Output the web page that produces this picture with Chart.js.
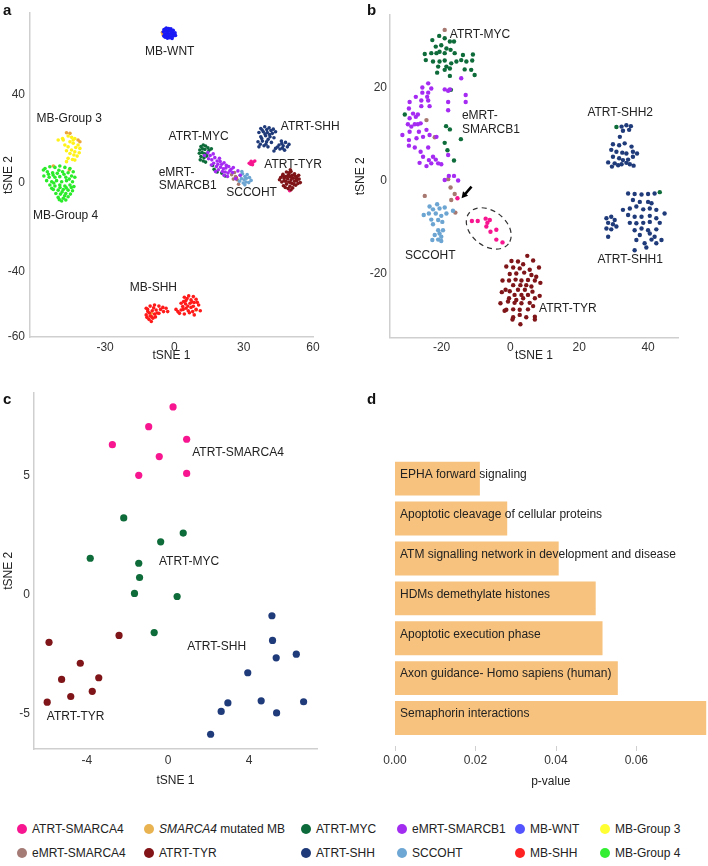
<!DOCTYPE html>
<html>
<head>
<meta charset="utf-8">
<script src="https://cdn.jsdelivr.net/npm/chart.js@4.4.1/dist/chart.umd.min.js"></script>
<style>
body { margin: 0; background: #fff; font-family: "Liberation Sans", Arial, sans-serif; }
#page { position: relative; width: 708px; height: 866px; overflow: hidden; }
canvas { position: absolute; }
.tag { position: absolute; font-weight: bold; font-size: 15px; color: #111; line-height: 15px; }
.leg { position: absolute; font-size: 12px; color: #222; white-space: nowrap; line-height: 14px; }
.dot { position: absolute; width: 10px; height: 10px; border-radius: 50%; }
</style>
</head>
<body>
<div id="page">
  <canvas id="chartA" style="left:0;top:0" width="350" height="370"></canvas>
  <canvas id="chartB" style="left:350px;top:0" width="358" height="370"></canvas>
  <canvas id="chartC" style="left:0;top:380px" width="350" height="410"></canvas>
  <canvas id="chartD" style="left:350px;top:380px" width="358" height="410"></canvas>
  <div class="tag" style="left:3px;top:2px">a</div>
  <div class="tag" style="left:367px;top:2px">b</div>
  <div class="tag" style="left:3px;top:391px">c</div>
  <div class="tag" style="left:367px;top:391px">d</div>
  <div id="legend"></div>
</div>
<script>
Chart.defaults.font.family = '"Liberation Sans", Arial, sans-serif';

// group colours
const col = {
  smarca4: '#F7168F', mutMb: '#EDA43A', myc: '#0E6B3A', smarcb1: '#A52BF2',
  wnt: '#1A1AF5', g3: '#FFF21A', emrtA4: '#A6786F', tyr: '#7F1518',
  shh: '#203B7A', scc: '#6CA5D2', mbShh: '#FF1A1A', g4: '#2BEB2B'
};

// ---- panel a (tSNE, all tumours) ----
const aWnt = [[-4.5,69.5],[-3.5,70.2],[-2.5,70.0],[-1.5,69.8],[-0.5,69.2],[-4.8,68.5],[-3.8,68.8],[-2.8,68.6],[-1.8,68.9],[-0.8,68.4],[0.3,68.0],[-4.2,67.5],[-3.2,67.8],[-2.2,67.4],[-1.2,67.6],[-0.2,67.2],[-4.6,66.6],[-3.6,66.4],[-2.6,66.8],[-1.6,66.2],[-0.6,66.5],[-3.0,65.6],[-2.0,65.8],[-1.0,65.5],[0.5,66.8],[-2.4,69.2],[-1.4,68.0],[-3.8,69.8],[-2.0,69.0],[-3.3,66.9],[-1.9,67.0],[-4.0,66.0]];
const aMutMb = [[-5.2,68.2],[-4.0,69.0],[-0.8,67.0],[-4.9,67.2],[-46.7,22.8],[-45.2,22.5],[-41.7,19.5],[-40.9,18.7],[-45.5,5.9],[-52.4,7.7],[9.4,-57.5],[-10.0,-59.0]];
const aG3 = [[-46.0,21.3],[-44.5,20.7],[-43.1,20.2],[-48.4,20.2],[-50.3,19.5],[-48.1,19.5],[-45.2,18.7],[-43.8,18.0],[-41.7,17.2],[-47.4,17.2],[-46.0,16.4],[-42.7,16.1],[-40.9,15.7],[-44.5,15.0],[-43.1,14.2],[-41.2,13.7],[-45.2,13.4],[-43.5,12.7],[-42.1,12.2],[-46.0,11.2],[-44.1,10.7],[-46.7,9.7],[-43.1,10.4],[-46.7,14.6],[-43.8,19.5]];
const aG4 = [[-56.0,6.6],[-53.9,7.4],[-51.7,7.1],[-49.6,7.7],[-47.4,7.1],[-45.2,6.6],[-55.0,5.1],[-52.7,4.7],[-50.7,4.4],[-48.4,5.1],[-46.0,4.7],[-43.8,5.1],[-56.5,3.2],[-54.2,2.6],[-51.7,2.6],[-49.6,2.9],[-47.0,2.6],[-44.5,3.2],[-55.3,1.1],[-53.1,0.6],[-51.0,1.1],[-48.8,0.6],[-46.7,1.1],[-44.1,0.6],[-53.9,-0.9],[-51.7,-1.3],[-49.6,-0.9],[-47.4,-1.3],[-45.2,-0.9],[-43.5,-1.6],[-52.4,-2.9],[-50.3,-3.2],[-48.1,-2.9],[-46.0,-3.2],[-44.1,-3.5],[-51.3,-4.7],[-49.3,-5.0],[-47.0,-4.7],[-45.0,-5.0],[-50.3,-6.5],[-48.1,-6.9],[-46.0,-6.2],[-48.8,-8.1],[-47.0,-7.7],[-56.7,5.9],[-53.1,-2.4],[-43.1,2.6],[-54.5,4.0],[-52.5,3.6],[-50.0,5.8],[-47.8,4.0],[-45.5,1.8],[-49.5,-2.0],[-46.8,-2.2],[-48.6,-4.0],[-49.8,-7.5],[-52.2,0.0],[-44.6,-2.0],[-47.5,-5.8]];
const aMbShh = [[-12.2,-56.7],[-10.5,-55.7],[-8.6,-55.2],[-6.7,-55.7],[-5.0,-56.3],[-11.5,-58.2],[-9.6,-57.8],[-7.9,-57.5],[-6.0,-57.2],[-3.6,-56.7],[-2.9,-58.2],[-12.2,-59.7],[-10.5,-60.2],[-8.6,-59.3],[-6.7,-59.0],[-11.0,-61.7],[-9.3,-61.2],[-10.0,-62.7],[-11.9,-60.8],[-4.7,-58.2],[4.3,-51.7],[6.2,-51.1],[8.2,-51.4],[5.0,-53.2],[7.2,-52.9],[9.4,-52.6],[2.9,-54.4],[4.8,-54.7],[6.8,-54.4],[8.6,-54.1],[10.5,-55.2],[0.7,-57.2],[2.9,-57.5],[5.0,-56.7],[7.2,-56.3],[9.4,-57.2],[11.2,-57.8],[2.2,-59.0],[4.3,-59.3],[6.5,-58.7],[8.6,-59.7],[5.8,-55.7],[7.9,-58.2],[3.6,-55.9],[-9.0,-56.5],[-7.5,-58.8],[-10.8,-58.8],[-9.8,-60.5],[-8.2,-60.6],[-11.6,-57.2],[5.5,-52.3],[7.6,-53.8],[3.8,-57.2],[6.0,-57.8],[8.2,-55.8],[9.9,-54.0],[1.5,-58.2],[4.0,-53.6]];
const aMyc = [[11.5,16.5],[12.5,17.2],[13.5,16.8],[14.5,16.0],[11.0,15.0],[12.2,15.5],[13.2,15.2],[15.0,14.8],[10.8,13.5],[12.0,13.8],[13.0,13.2],[14.2,13.5],[11.5,12.0],[12.8,11.5],[14.0,12.2],[11.2,10.5],[12.5,10.0],[13.5,9.5],[16.5,8.0],[18.5,5.0],[20.5,4.5],[22.0,3.2],[17.2,6.2],[16.0,15.5]];
const aSmarcb1 = [[15.5,12.5],[16.8,13.2],[14.8,11.0],[16.2,10.5],[17.5,11.5],[18.5,10.0],[17.0,9.0],[18.8,8.5],[19.8,9.8],[20.5,8.5],[21.5,9.2],[22.5,8.0],[20.0,7.2],[21.2,6.5],[22.3,6.8],[23.5,7.5],[24.5,6.2],[19.0,6.0],[20.8,5.2],[22.0,5.0],[23.2,4.5],[24.0,5.5],[25.2,4.8],[18.2,7.5],[16.0,8.2],[21.5,3.5],[23.0,3.0],[25.5,7.0],[27.5,5.5],[28.5,3.5],[26.5,2.0],[14.5,13.8],[13.0,12.5],[19.5,11.2],[17.8,5.2]];
const aScc = [[28.5,3.5],[29.5,4.2],[30.5,3.0],[31.5,3.8],[29.0,2.0],[30.2,1.5],[31.2,2.2],[32.5,2.5],[28.2,0.8],[29.8,0.0],[31.0,0.5],[32.2,0.2],[33.2,1.2],[30.5,-0.8],[29.2,5.2]];
const aSmarca4 = [[32.4,9.0],[33.2,9.8],[34.0,9.4],[34.8,10.0],[33.0,8.5],[33.8,8.3],[26.8,2.5],[49.9,-3.5]];
const aEmrtA4 = [[26.0,4.8],[26.5,3.0],[27.2,1.5],[25.5,1.8],[27.8,-0.5],[24.8,3.8]];
const aTyr = [[46.0,2.5],[47.0,4.0],[47.5,1.0],[48.0,3.0],[48.5,5.0],[48.5,-0.5],[49.0,2.0],[49.5,4.0],[49.5,0.5],[50.0,3.0],[50.0,-1.5],[50.5,1.5],[50.5,5.2],[51.0,3.5],[51.0,-0.2],[51.5,2.2],[52.0,4.2],[52.0,0.8],[52.5,-1.0],[53.0,2.8],[53.0,1.0],[53.8,3.5],[54.0,1.8],[47.2,-1.2],[46.5,0.5],[48.0,-2.0],[49.2,-2.5],[51.2,-2.2],[50.2,6.0],[45.5,1.5],[54.5,0.2],[47.5,2.2],[49.0,3.2],[50.8,2.6],[52.3,3.2],[48.2,0.8],[50.2,0.2],[51.8,-0.6],[49.8,4.8],[52.8,1.9],[46.8,3.2],[53.5,-0.2],[50.5,-3.0]];
const aShh = [[37.4,24.7],[39.1,25.5],[41.0,25.0],[42.8,24.4],[36.6,22.9],[38.5,23.2],[40.2,22.9],[42.4,22.5],[43.8,23.2],[37.4,21.0],[39.5,21.4],[41.4,21.0],[43.1,20.5],[36.2,18.7],[38.1,19.0],[39.9,18.7],[42.0,18.4],[36.6,16.4],[38.8,16.9],[40.5,16.4],[46.3,19.0],[48.1,18.4],[45.3,17.2],[47.1,16.9],[48.9,16.4],[43.8,15.7],[45.7,15.4],[47.7,14.9],[43.1,14.5],[49.6,17.5],[38.0,24.0],[40.0,24.2],[41.8,23.8],[39.2,22.2],[41.2,22.0],[37.8,20.2],[40.6,19.8],[37.2,17.6],[39.6,17.6],[46.5,17.9],[44.6,16.3],[46.8,15.8]];
const aNotes = [['MB-WNT',-2.0,59.7,'center'],['MB-Group 3',-45.5,29.3,'center'],['MB-Group 4',-47.1,-14.9,'center'],['ATRT-MYC',10.5,20.9,'center'],['eMRT-',-6.8,4.7,'left'],['SMARCB1',-6.8,-1.4,'left'],['SCCOHT',33.4,-4.4,'center'],['ATRT-TYR',51.4,8.5,'center'],['ATRT-SHH',58.8,25.5,'center'],['MB-SHH',-9.1,-47.4,'center']];
const aXTicks = [-30, 0, 30, 60];
const aYTicks = [-69.7, -40, 0, 40];

// ---- panel b (tSNE, rhabdoid-like tumours) ----
const bMyc = [[-20.7,31.2],[-19.1,30.7],[-22.7,30.3],[-17.6,30.0],[-16.4,30.0],[-21.7,28.9],[-20.1,29.2],[-18.6,28.5],[-17.4,28.2],[-24.9,27.3],[-23.0,27.5],[-21.5,27.5],[-20.6,27.8],[-19.1,27.5],[-16.2,27.5],[-13.8,27.1],[-10.9,27.2],[-24.6,26.0],[-22.5,25.7],[-20.6,25.7],[-19.1,25.9],[-17.2,25.3],[-15.7,25.7],[-14.3,26.0],[-12.8,25.7],[-11.1,25.9],[-21.0,24.6],[-18.6,24.6],[-17.6,24.2],[-19.1,23.9],[-21.3,23.3],[-13.3,24.0],[-11.4,23.9],[-10.4,22.8],[-17.6,22.6],[-17.3,19.6],[-30.7,14.3],[-18.7,11.8],[-17.6,11.1],[-14.4,9.0],[-19.1,8.2],[-18.3,6.6],[-16.4,4.4],[30.8,11.6],[43.4,-2.4]];
const bSmarcb1 = [[-23.9,21.0],[-25.6,20.1],[-23.0,19.9],[-19.1,19.7],[-18.1,19.4],[-25.6,19.0],[-23.9,19.0],[-27.5,18.1],[-24.2,18.1],[-25.9,17.3],[-23.9,17.3],[-29.3,17.0],[-13.0,18.5],[-13.0,17.0],[-18.1,17.0],[-25.9,16.1],[-23.5,16.1],[-18.1,15.2],[-29.5,15.6],[-28.3,14.5],[-27.5,13.8],[-29.3,13.5],[-26.9,14.3],[-26.1,12.4],[-27.8,12.2],[-29.8,12.2],[-28.8,11.7],[-26.9,12.2],[-31.4,9.9],[-29.3,10.6],[-26.6,10.6],[-24.4,11.0],[-29.5,8.8],[-27.3,9.2],[-25.4,9.5],[-23.5,9.9],[-21.5,9.5],[-29.5,7.6],[-27.8,7.2],[-23.9,7.2],[-26.1,6.3],[-25.4,5.2],[-26.4,3.9],[-23.7,4.5],[-23.0,3.8],[-21.7,4.6],[-21.0,3.8],[-20.1,3.6],[-24.4,3.2],[-22.5,5.2],[-18.1,5.6],[-17.9,1.1],[-16.4,1.1],[-15.2,0.1],[-19.1,0.2],[-14.3,22.1],[-17.6,19.7]];
const bEmrtA4 = [[-19.1,32.5],[-24.4,13.1],[-22.0,9.4],[-18.1,0.4],[-17.4,-1.4],[-16.2,-2.8],[-17.2,-4.1],[-24.9,-3.2],[-16.0,-6.8]];
const bSmarca4 = [[-15.4,-3.7],[-11.2,-8.6],[-9.5,-8.6],[-7.2,-8.1],[-6.0,-8.4],[-6.7,-9.0],[-7.0,-9.8],[-5.8,-10.9],[-4.1,-10.5],[-4.1,-12.6],[-2.3,-13.2]];
const bScc = [[-21.3,-5.0],[-23.5,-5.5],[-22.5,-6.1],[-20.6,-5.9],[-19.1,-5.7],[-25.2,-7.3],[-23.7,-7.0],[-21.7,-7.0],[-20.1,-7.5],[-18.6,-7.0],[-16.7,-6.4],[-23.0,-8.3],[-21.0,-8.4],[-19.8,-8.8],[-22.5,-9.3],[-21.0,-10.6],[-19.6,-10.6],[-20.6,-11.3],[-22.0,-11.6],[-20.1,-12.0],[-21.0,-12.6],[-22.7,-12.7],[-20.1,-12.9]];
const bTyr = [[4.9,-16.1],[0.3,-17.2],[2.2,-17.3],[6.6,-17.1],[3.7,-17.9],[8.3,-18.6],[-1.2,-18.4],[0.8,-18.6],[2.7,-18.8],[5.6,-19.1],[-0.2,-20.0],[1.7,-19.9],[4.0,-19.7],[6.1,-20.2],[7.5,-20.6],[-2.3,-21.4],[-0.4,-21.4],[1.5,-21.2],[3.2,-21.4],[5.1,-21.3],[7.1,-21.4],[8.7,-21.9],[0.8,-22.4],[2.9,-22.4],[4.6,-22.4],[6.1,-22.7],[-1.4,-23.4],[-0.2,-23.7],[2.2,-23.4],[4.2,-23.4],[6.4,-23.8],[8.5,-24.7],[-2.5,-23.9],[1.2,-24.5],[3.2,-24.5],[5.1,-24.5],[-0.4,-25.2],[1.7,-25.6],[3.7,-25.2],[7.1,-25.2],[-2.9,-26.3],[-0.7,-25.9],[1.2,-26.2],[3.2,-26.3],[5.6,-26.2],[-1.2,-27.7],[0.8,-27.6],[2.7,-27.7],[5.1,-27.6],[6.6,-26.9],[0.8,-29.3],[2.7,-28.8],[4.6,-29.3],[7.1,-29.2],[0.6,-29.8],[2.9,-30.8],[-1.7,-27.9],[7.1,-29.8]];
const bShh = [[32.3,11.7],[33.7,12.0],[35.0,11.8],[32.7,10.8],[34.5,11.0],[31.8,9.5],[29.8,7.9],[31.6,7.7],[33.2,8.1],[35.2,7.4],[29.3,6.7],[30.8,6.3],[32.5,6.1],[33.7,5.9],[35.6,6.3],[36.8,5.9],[29.8,5.2],[31.6,4.9],[32.7,4.5],[34.2,4.6],[35.6,5.2],[28.4,4.0],[30.3,3.8],[32.3,3.6],[33.7,3.9],[35.8,3.3],[29.5,3.1],[31.3,3.4],[34.7,3.6],
  [27.9,-8.0],[29.3,-7.7],[30.3,-8.4],[28.4,-9.0],[29.8,-9.3],[27.9,-10.2],[29.3,-10.4],[28.4,-12.0],[30.8,-9.8],[34.2,-2.7],[36.1,-2.8],[38.1,-2.9],[40.0,-2.8],[41.9,-2.7],[35.6,-4.1],[37.6,-4.5],[40.0,-4.5],[41.0,-4.8],[32.7,-6.2],[34.7,-5.9],[36.6,-5.5],[38.6,-6.1],[40.5,-5.9],[42.4,-6.2],[44.8,-7.0],[34.2,-7.3],[36.1,-7.7],[38.1,-7.7],[40.5,-7.5],[42.4,-8.0],[34.7,-9.0],[36.6,-9.1],[38.6,-9.0],[40.5,-8.8],[43.4,-9.0],[36.1,-10.6],[38.1,-10.2],[40.0,-10.6],[42.4,-10.4],[37.6,-11.6],[40.5,-11.3],[41.9,-12.0],[43.9,-12.7],[36.6,-12.7],[39.0,-13.4],[41.0,-12.6],[42.4,-13.4],[36.1,-14.9],[39.5,-14.3]];
const bNotes = [['ATRT-MYC',-17.6,31.4,'left'],['eMRT-',-14.1,14.0,'left'],['SMARCB1',-14.1,11.1,'left'],['ATRT-SHH2',31.9,14.6,'center'],['SCCOHT',-23.3,-16.1,'center'],['ATRT-SHH1',34.8,-17.0,'center'],['ATRT-TYR',16.7,-27.5,'center']];
const bXTicks = [-20, 0, 20, 40];
const bYTicks = [-20, 0, 20];

// ---- panel c (tSNE, SMARCA4 subset) ----
const cSmarca4 = [[0.25,7.9],[-0.95,7.07],[0.92,6.54],[-2.74,6.31],[-0.43,5.81],[-1.44,5.02],[0.92,5.1]];
const cMyc = [[-2.18,3.23],[0.75,2.59],[-0.36,2.22],[-3.83,1.53],[-1.44,1.32],[-1.40,0.72],[-1.65,0.05],[0.45,-0.08],[-0.68,-1.6]];
const cTyr = [[-2.41,-1.72],[-5.86,-2.01],[-4.32,-2.89],[-5.24,-3.57],[-3.41,-3.5],[-4.79,-4.29],[-3.73,-4.07],[-5.95,-4.53]];
const cShh = [[5.12,-0.89],[5.15,-1.93],[5.33,-2.66],[6.32,-2.51],[3.93,-3.29],[4.59,-4.47],[6.68,-4.51],[2.95,-4.56],[2.62,-4.92],[5.35,-4.98],[2.10,-5.88]];
const cNotes = [['ATRT-SMARCA4',3.45,5.97,'center'],['ATRT-MYC',1.04,1.38,'center'],['ATRT-SHH',2.4,-2.18,'center'],['ATRT-TYR',-4.55,-5.16,'center']];
const cXTicks = [-4, 0, 4];
const cYTicks = [-5, 0, 5];

// ---- panel d (pathways) ----
const pathways = ['EPHA forward signaling','Apoptotic cleavage of cellular proteins','ATM signalling network in development and disease','HDMs demethylate histones','Apoptotic execution phase','Axon guidance- Homo sapiens (human)','Semaphorin interactions'];
const pValues = [0.0211, 0.0279, 0.0407, 0.0499, 0.0516, 0.0554, 0.0774];
const dXTicks = [0, 0.02, 0.04, 0.06];

// legend
const legendRows = [
  [['ATRT-SMARCA4','#F7168F'],['<i>SMARCA4</i> mutated MB','#E8B350'],['ATRT-MYC','#0D6B3B'],['eMRT-SMARCB1','#A22DF0'],['MB-WNT','#5454FF'],['MB-Group 3','#FFFF33']],
  [['eMRT-SMARCA4','#A57B75'],['ATRT-TYR','#821418'],['ATRT-SHH','#1F3A78'],['SCCOHT','#6EA7D4'],['MB-SHH','#FF2222'],['MB-Group 4','#33EE33']]
];
const legendX = [22, 149, 306, 402, 520, 605];
const legendY = [829, 853];

const pts = arr => arr.map(([x, y]) => ({ x, y }));
const ds = (arr, color, r) => ({ data: pts(arr), backgroundColor: color, borderWidth: 0, pointRadius: r, pointHoverRadius: r });

function axis(min, max, vals, title, o) {
  return {
    type: 'linear', min, max, bounds: 'data',
    afterBuildTicks: s => { s.ticks = vals.map(v => ({ value: v })); },
    afterFit: s => { if (o.w) s.width = o.w; if (o.h) s.height = o.h; },
    grid: { display: false, drawTicks: false },
    border: { color: '#cfcfcf', width: 1.5 },
    ticks: { color: '#333', font: { size: 12 }, padding: o.pad, autoSkip: false, maxRotation: 0, callback: o.fmt || (v => v) },
    title: { display: true, text: title, color: '#222', font: { size: 12 }, padding: o.tpad }
  };
}

const notes = {
  id: 'notes',
  afterDatasetsDraw(chart, args, opts) {
    const { ctx, scales: { x, y } } = chart;
    ctx.save();
    ctx.font = '12px "Liberation Sans", Arial, sans-serif';
    ctx.fillStyle = '#222';
    ctx.textBaseline = 'middle';
    (opts.items || []).forEach(([t, vx, vy, align]) => {
      ctx.textAlign = align;
      ctx.fillText(t, x.getPixelForValue(vx), y.getPixelForValue(vy));
    });
    ctx.restore();
  }
};

// dashed ring round the ATRT-SMARCA4 samples and the arrow in panel b
const marks = {
  id: 'marks',
  afterDatasetsDraw(chart) {
    const { ctx, scales: { x, y } } = chart;
    ctx.save();
    ctx.strokeStyle = '#333';
    ctx.lineWidth = 1.2;
    ctx.setLineDash([5, 4]);
    ctx.beginPath();
    ctx.ellipse(x.getPixelForValue(-6.3), y.getPixelForValue(-10.2), 25, 17.5, 38 * Math.PI / 180, 0, 2 * Math.PI);
    ctx.stroke();
    ctx.setLineDash([]);
    const x0 = x.getPixelForValue(-11.3), y0 = y.getPixelForValue(-1.2);
    const x1 = x.getPixelForValue(-14.2), y1 = y.getPixelForValue(-3.7);
    const ang = Math.atan2(y1 - y0, x1 - x0);
    ctx.strokeStyle = '#000';
    ctx.fillStyle = '#000';
    ctx.lineWidth = 2.5;
    ctx.beginPath();
    ctx.moveTo(x0, y0);
    ctx.lineTo(x1 - 4 * Math.cos(ang), y1 - 4 * Math.sin(ang));
    ctx.stroke();
    ctx.beginPath();
    ctx.moveTo(x1, y1);
    ctx.lineTo(x1 - 7 * Math.cos(ang - 0.5), y1 - 7 * Math.sin(ang - 0.5));
    ctx.lineTo(x1 - 7 * Math.cos(ang + 0.5), y1 - 7 * Math.sin(ang + 0.5));
    ctx.closePath();
    ctx.fill();
    ctx.restore();
  }
};

const barText = {
  id: 'barText',
  afterDatasetsDraw(chart) {
    const { ctx, chartArea, scales: { x } } = chart;
    ctx.save();
    ctx.font = '12px "Liberation Sans", Arial, sans-serif';
    ctx.fillStyle = '#222';
    ctx.textAlign = 'left';
    ctx.textBaseline = 'middle';
    chart.getDatasetMeta(0).data.forEach((bar, i) => {
      ctx.fillText(chart.data.labels[i], bar.base + 5, bar.y - 4);
    });
    ctx.strokeStyle = '#cfcfcf';
    ctx.lineWidth = 1;
    dXTicks.forEach(v => {
      const px = Math.round(x.getPixelForValue(v)) + 0.5;
      ctx.beginPath();
      ctx.moveTo(px, chartArea.bottom + 8);
      ctx.lineTo(px, chartArea.bottom + 13);
      ctx.stroke();
    });
    ctx.restore();
  }
};

const base = { responsive: false, animation: false, events: [] };
const noLegend = { legend: { display: false }, tooltip: { enabled: false } };

new Chart(document.getElementById('chartA'), {
  type: 'scatter',
  data: { datasets: [
    ds(aG4, col.g4, 1.8), ds(aG3, col.g3, 1.8), ds(aWnt, col.wnt, 1.8), ds(aMbShh, col.mbShh, 1.8),
    ds(aSmarcb1, col.smarcb1, 1.8), ds(aMyc, col.myc, 1.8), ds(aScc, col.scc, 1.8), ds(aTyr, col.tyr, 1.8),
    ds(aShh, col.shh, 1.8), ds(aEmrtA4, col.emrtA4, 1.8), ds(aSmarca4, col.smarca4, 1.8), ds(aMutMb, col.mutMb, 1.8)
  ] },
  options: {
    ...base,
    layout: { padding: { left: 0, top: 13, right: 37, bottom: 0 } },
    plugins: { ...noLegend, notes: { items: aNotes } },
    scales: {
      x: axis(-62.5, 60, aXTicks, 'tSNE 1', { h: 33, pad: 3, tpad: { top: 0, bottom: 7 } }),
      y: axis(-69.7, 77, aYTicks, 'tSNE 2', { w: 30, pad: 5, tpad: { top: 1, bottom: 0 }, fmt: v => (v < -60 ? '-60' : v) })
    }
  },
  plugins: [notes]
});

new Chart(document.getElementById('chartB'), {
  type: 'scatter',
  data: { datasets: [
    ds(bShh, col.shh, 2.2), ds(bTyr, col.tyr, 2.2), ds(bScc, col.scc, 2.2), ds(bSmarcb1, col.smarcb1, 2.2),
    ds(bMyc, col.myc, 2.2), ds(bSmarca4, col.smarca4, 2.2), ds(bEmrtA4, col.emrtA4, 2.2)
  ] },
  options: {
    ...base,
    layout: { padding: { left: 0, top: 15, right: 30, bottom: 0 } },
    plugins: { ...noLegend, notes: { items: bNotes } },
    scales: {
      x: axis(-35, 48.7, bXTicks, 'tSNE 1', { h: 32.3, pad: 3, tpad: { top: 0, bottom: 7 } }),
      y: axis(-33.7, 35.7, bYTicks, 'tSNE 2', { w: 40, pad: 3, tpad: { top: 3, bottom: 0 } })
    }
  },
  plugins: [notes, marks]
});

new Chart(document.getElementById('chartC'), {
  type: 'scatter',
  data: { datasets: [
    ds(cSmarca4, col.smarca4, 3.6), ds(cMyc, col.myc, 3.6), ds(cTyr, col.tyr, 3.6), ds(cShh, col.shh, 3.6)
  ] },
  options: {
    ...base,
    layout: { padding: { left: 0, top: 12.7, right: 33, bottom: 0 } },
    plugins: { ...noLegend, notes: { items: cNotes } },
    scales: {
      x: axis(-6.6, 7.34, cXTicks, 'tSNE 1', { h: 41, pad: 4, tpad: { top: 0, bottom: 2 } }),
      y: axis(-6.5, 8.5, cYTicks, 'tSNE 2', { w: 34, pad: 4, tpad: { top: 1, bottom: 0 } })
    }
  },
  plugins: [notes]
});

const dx = axis(0, 0.0775, dXTicks, 'p-value', { h: 52, pad: 15, tpad: { top: 0, bottom: 1 }, fmt: v => v.toFixed(2) });
dx.border = { display: false };

new Chart(document.getElementById('chartD'), {
  type: 'bar',
  data: { labels: pathways, datasets: [{ data: pValues, backgroundColor: '#F7C27D', borderWidth: 0, barPercentage: 0.85, categoryPercentage: 1 }] },
  options: {
    ...base,
    indexAxis: 'y',
    layout: { padding: { left: 45, top: 78.7, right: 1.3, bottom: 0 } },
    plugins: { ...noLegend },
    scales: { x: dx, y: { display: false } }
  },
  plugins: [barText]
});

const legend = document.getElementById('legend');
legendRows.forEach((row, r) => {
  row.forEach(([name, color], i) => {
    const dot = document.createElement('div');
    dot.className = 'dot';
    dot.style.left = (legendX[i] - 5) + 'px';
    dot.style.top = (legendY[r] - 5) + 'px';
    dot.style.background = color;
    legend.appendChild(dot);
    const lab = document.createElement('div');
    lab.className = 'leg';
    lab.style.left = (legendX[i] + 10) + 'px';
    lab.style.top = (legendY[r] - 7) + 'px';
    lab.innerHTML = name;
    legend.appendChild(lab);
  });
});
</script>
</body>
</html>
